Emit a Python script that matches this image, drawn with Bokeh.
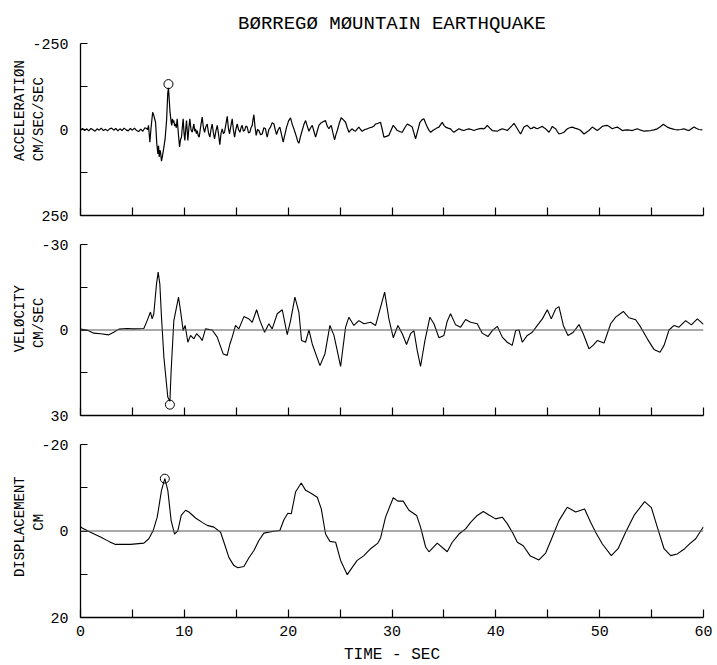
import math
from bokeh.plotting import figure
from bokeh.layouts import column, row
from bokeh.models import Range1d, FixedTicker, Span, Title
from bokeh.core.properties import value
from bokeh.embed import file_html
from bokeh.resources import INLINE

FONT = "Liberation Mono"

# ---------------- data ----------------
title_text = "BØRREGØ MØUNTAIN EARTHQUAKE"
x_ticks = [0, 5, 10, 15, 20, 25, 30, 35, 40, 45, 50, 55, 60]

accel_t = [0.0, 0.2, 0.4, 0.6, 0.8, 1.0, 1.2, 1.4, 1.6, 1.8, 2.0, 2.2, 2.4, 2.6, 2.8, 3.0,
           3.2, 3.4, 3.6, 3.8, 4.0, 4.2, 4.4, 4.6, 4.8, 5.0, 5.2, 5.4, 5.6, 5.8, 6.0, 6.2, 6.4,
           6.45, 6.55, 6.68, 6.80, 6.95, 7.06, 7.15, 7.23, 7.35, 7.45, 7.52, 7.58, 7.65, 7.71,
           7.80, 7.90, 8.03, 8.15, 8.29, 8.40, 8.47, 8.55, 8.61, 8.73, 8.79, 8.85, 8.92, 8.99,
           9.07, 9.15, 9.23, 9.31, 9.42, 9.54, 9.63, 9.73, 9.80, 9.89, 9.97, 10.05, 10.13,
           10.21, 10.28, 10.34, 10.44, 10.53, 10.64, 10.76, 10.84, 10.92, 11.00, 11.08, 11.16,
           11.24, 11.34, 11.43, 11.58, 11.72, 11.84, 11.95, 12.07, 12.20, 12.33, 12.46, 12.57,
           12.68, 12.80, 12.91, 13.04, 13.17, 13.30, 13.42, 13.54, 13.65, 13.76, 13.87, 14.00,
           14.13, 14.24, 14.35, 14.48, 14.61, 14.72, 14.84, 14.96, 15.09, 15.22, 15.35, 15.46,
           15.57, 15.68, 15.80, 15.93, 16.06, 16.18, 16.31, 16.42, 16.54, 16.62, 16.70, 16.80,
           16.92, 17.05, 17.18, 17.34, 17.50, 17.66, 17.82, 17.90, 17.98, 18.14, 18.30, 18.46,
           18.63, 18.75, 18.88, 19.04, 19.20, 19.36, 19.52, 19.68, 19.85, 20.04, 20.23, 20.39,
           20.55, 20.68, 20.81, 20.92, 21.03, 21.19, 21.35, 21.52, 21.68, 21.84, 22.00, 22.16,
           22.32, 22.48, 22.64, 22.80, 22.96, 23.12, 23.28, 23.44, 23.60, 23.76, 23.92, 24.04,
           24.15, 24.31, 24.47, 24.60, 24.73, 24.92, 25.11, 25.32, 25.53, 25.69, 25.85, 26.01,
           26.17, 26.33, 26.49, 26.65, 26.81, 26.97, 27.14, 27.38, 27.62, 27.86, 28.10, 28.26,
           28.42, 28.66, 28.90, 29.06, 29.22, 29.46, 29.70, 29.91, 30.12, 30.32, 30.51, 30.75,
           30.99, 31.23, 31.47, 31.71, 31.95, 32.11, 32.27, 32.48, 32.69, 32.88, 33.07, 33.24,
           33.40, 33.56, 33.72, 33.96, 34.20, 34.36, 34.52, 34.68, 34.84, 35.00, 35.16, 35.40,
           35.64, 35.80, 35.96, 36.20, 36.45, 36.69, 36.93, 37.17, 37.41, 37.65, 37.89, 38.13,
           38.37, 38.62, 38.86, 39.02, 39.18, 39.42, 39.66, 39.90, 40.14, 40.38, 40.62, 40.86,
           41.10, 41.26, 41.42, 41.58, 41.75, 41.91, 42.07, 42.23, 42.39, 42.55, 42.71, 42.87,
           43.03, 43.19, 43.35, 43.51, 43.67, 43.84, 44.00, 44.24, 44.48, 44.64, 44.80, 45.12,
           45.28, 45.44, 45.60, 45.76, 45.92, 46.08, 46.32, 46.56, 46.72, 46.88, 47.12, 47.37,
           47.61, 47.85, 48.01, 48.17, 48.33, 48.49, 48.73, 48.97, 49.13, 49.29, 49.53, 49.77,
           50.02, 50.26, 50.50, 50.74, 50.98, 51.22, 51.46, 51.70, 51.94, 52.18, 52.42, 52.66,
           52.90, 53.15, 53.39, 53.63, 53.95, 54.27, 54.59, 54.91, 55.23, 55.55, 55.84, 56.13,
           56.33, 56.52, 56.76, 57.00, 57.24, 57.48, 57.80, 58.12, 58.36, 58.60, 58.84, 59.09,
           59.33, 59.57, 59.89]
accel_v = [2, -3, 3, -2, 4, -3, 1, 5, -2, 2, -4, 3, -1, 4, -2, -4, 2, -3, 4, -2, 3, -4, 1, 4,
           -3, 2, -4, 3, 6, -1, 5, -5, -2,
           1, -12, 37, -7, -50, -41, -30, -21, 42, 71, 47, 80, 60, 66,
           92, 76, 51, 27, -26, -104, -121, -84, -55, -21, -12, -31, -20, -26,
           -10, -16, -5, -31, 10, 51, 30, 22, -5, -31, 10, 32, 0,
           -26, 5, 32, -5, -31, 0, 8, -5, -16, 5, -2, 12,
           3, 18, 22, -10, -36, -5, 8, -8, -16, 10, 22, 0,
           -16, 10, 27, 5, -12, 15, 44, 10, -2, 12, 8, -15,
           -38, -5, 13, -10, -31, 0, 22, 0, -16, 0, 8, -5,
           -12, 5, 3, -10, -7, 10, 8, -5, -12, -30, -43, -10,
           17, 0, 3, 15, 13, -5, -2, 12, 22, 0, -7, -20,
           -16, 0, 15, 0, -7, 15, 37, 15, -7, -25, -34, -15,
           -2, 10, 22, 35, 40, 20, 3, -15, -26, -10, 5, -5,
           -12, 5, 22, 5, -12, -18, -21, -24, -26, -10, -2, -8,
           -12, 10, 30, 15, 3, -18, -34, -28, -21, -5, 8, 2,
           -2, 3, 5, -2, -7, 0, 5, 0, -2, -5, -7, -10,
           -16, -18, -21, 0, 22, 20, 17, 2, -12, -5, 3, 6,
           8, -5, -16, -12, -7, 10, 27, 3, -21, -28, -31, -18,
           -7, 2, 8, 2, -2, -5, -7, -14, -21, -12, -7, -4,
           -2, 4, 8, 3, -2, 1, 3, 0, -2, 0, 3, 0,
           -2, -3, -2, -6, -12, -4, 3, 4, 5, 1, -2, 0,
           3, -2, -7, -12, -18, -10, -2, 6, 13, 3, -7, -10,
           -12, -7, -2, -4, -7, -4, -2, -6, -9, -5, -2, 8,
           0, -9, -5, -2, 6, 13, 11, 8, 3, -2, -5, -7,
           -4, -2, 0, 3, 8, 13, 8, 3, -2, -7, -2, 3,
           -3, -9, -11, -12, -7, -2, -5, -7, -2, 3, 2, 1,
           2, 3, 0, -2, 2, 5, 4, 3, 1, -2, -8, -15,
           -11, -7, -4, -2, 0, 1, 0, -2, 1, 3, -2, -7,
           -3, 0, 1]

vel_t = [0.0, 0.64, 1.28, 1.93, 2.73, 3.20, 3.70, 4.50, 5.10, 6.10, 6.42, 6.74, 6.90, 7.06,
         7.32, 7.48, 7.64, 7.80, 8.03, 8.41, 8.61, 8.73, 8.99, 9.44, 9.63, 9.89, 10.08, 10.34,
         10.60, 10.92, 11.18, 11.50, 11.72, 12.04, 12.68, 13.17, 13.74, 14.13, 14.39, 14.61,
         14.93, 15.25, 15.74, 16.22, 16.54, 16.96, 17.28, 17.73, 18.14, 18.46, 18.95, 19.43,
         19.91, 20.23, 20.65, 21.03, 21.29, 21.68, 22.00, 22.32, 23.06, 23.54, 24.02, 24.41,
         25.05, 25.53, 25.85, 26.33, 26.81, 27.30, 27.94, 28.42, 28.90, 29.29, 29.70, 30.12,
         30.57, 30.99, 31.40, 31.79, 32.11, 32.43, 32.75, 33.17, 33.65, 34.04, 34.52, 35.00,
         35.32, 35.64, 36.13, 36.61, 37.09, 37.57, 38.21, 38.69, 39.24, 39.66, 40.14, 40.62,
         41.10, 41.58, 41.91, 42.23, 42.55, 43.03, 43.51, 44.00, 44.48, 44.96, 45.34, 45.76,
         46.08, 46.50, 46.95, 47.46, 48.01, 48.42, 48.97, 49.36, 49.77, 50.42, 51.06, 51.54,
         52.28, 52.82, 53.47, 53.95, 54.59, 55.23, 55.81, 56.20, 56.68, 57.16, 57.64, 58.28,
         58.83, 59.41, 60.00]
vel_v = [-0.3, 0.0, 1.1, 1.3, 1.7, 0.8, -0.3, -0.5, -0.4, -0.5, -3.3, -6.3, -3.9, -5.7,
         -16.2, -20.3, -16.2, -4.5, 9.5, 23.6, 25.0, 14.2, -3.3, -11.5, -6.8, 0.2, -1.6, 4.3,
         1.9, 3.1, 1.3, 2.5, 3.7, -0.4, 0.0, 2.5, 8.4, 8.9, 4.9, 2.5,
         -1.6, -0.4, -4.7, -3.9, -2.7, -7.1, -3.3, 0.8, -2.2, -0.4, -5.7, -7.1,
         1.6, -3.3, -11.5, -6.3, 3.7, 4.3, 0.0, 4.9, 12.5, 8.4, -1.6, 1.9,
         12.8, -1.0, -4.5, -1.6, -3.3, -2.2, -2.7, -1.6, -8.0, -13.3, -3.9, 2.7,
         -1.6, 1.3, 5.1, 1.3, 0.2, 7.2, 12.8, 3.7, -4.5, -2.2, 2.7, 1.9,
         -3.1, -5.7, -1.8, -1.0, -3.7, -2.7, -2.2, 1.1, 2.3, 0.2, -1.3, 2.5,
         4.3, 5.4, 0.2, 0.0, 4.3, 1.9, 0.8, -1.6, -3.9, -7.1, -3.9, -7.4,
         -8.2, -1.6, 1.9, 0.8, -1.9, 1.3, 6.6, 5.4, 3.7, 4.6, -2.2, -4.5,
         -6.5, -4.3, -3.6, -1.0, 3.1, 6.8, 7.8, 5.4, 0.0, -1.6, -1.0, -3.3,
         -1.8, -3.9, -2.0]

disp_t = [0.00, 0.16, 0.96, 1.93, 2.73, 3.37, 4.82, 6.10, 6.58, 7.00, 7.39, 7.80, 8.12, 8.41,
          8.73, 9.06, 9.38, 9.70, 10.12, 10.44, 11.08, 11.72, 12.20, 12.85, 13.49, 13.87,
          14.29, 14.77, 15.16, 15.74, 16.22, 16.70, 17.18, 17.66, 18.47, 19.20, 19.59, 19.97,
          20.30, 20.71, 21.26, 21.68, 22.16, 22.80, 23.19, 23.60, 24.02, 24.57, 25.05, 25.69,
          26.17, 26.65, 27.30, 27.94, 28.64, 28.90, 29.38, 30.12, 30.57, 31.08, 31.63, 32.37,
          32.75, 33.24, 33.56, 34.36, 35.32, 35.80, 36.45, 37.09, 37.57, 38.21, 38.79, 39.34,
          39.98, 40.62, 41.10, 41.68, 42.07, 42.64, 43.29, 44.15, 44.80, 45.44, 46.08, 46.88,
          47.69, 48.55, 49.13, 49.61, 50.26, 51.12, 51.77, 52.50, 53.31, 54.33, 54.98, 55.55,
          56.20, 56.84, 57.48, 58.19, 58.60, 59.25, 59.73, 60.00]
disp_v = [-1.0, -0.7, 0.3, 1.4, 2.4, 3.1, 3.1, 2.8, 1.8, -0.1, -3.2, -9.4, -12.1, -9.4,
          -2.4, 0.7, -0.1, -3.6, -4.8, -4.4, -3.0, -2.0, -1.3, -0.9, 0.3, 3.0,
          6.1, 8.0, 8.5, 8.2, 6.2, 4.5, 2.2, 0.5, 0.1, -0.1, -2.6, -4.1,
          -4.0, -9.0, -11.1, -9.4, -8.8, -7.8, -5.1, 0.7, 2.4, 2.6, 6.8, 10.1,
          8.4, 6.8, 5.7, 4.1, 2.8, 1.6, -3.2, -7.7, -6.9, -6.9, -4.8, -3.6,
          -0.9, 3.7, 4.8, 2.8, 4.8, 2.6, 0.7, -0.5, -2.0, -3.6, -4.5, -3.7,
          -2.8, -3.2, -1.7, 0.7, 2.6, 3.4, 5.7, 6.7, 5.1, 1.4, -2.4, -5.5,
          -4.4, -5.1, -2.0, 0.3, 3.0, 5.7, 4.1, 0.3, -3.6, -6.8, -5.4, -0.9,
          4.1, 5.7, 5.3, 4.1, 3.1, 1.8, 0.0, -1.0]

# circled peak values
accel_peak_t, accel_peak_v = [8.47], [-132]
vel_peak_t, vel_peak_v = [8.61], [26.2]
disp_peak_t, disp_peak_v = [8.12], [-12.1]

# y tick values and their printed labels
accel_ticks, accel_tick_labels = [-250, -125, 0, 125, 250], ["-250", "0", "250"]
vel_ticks, vel_tick_labels = [-30, -15, 0, 15, 30], ["-30", "0", "30"]
disp_ticks, disp_tick_labels = [-20, -10, 0, 10, 20], ["-20", "0", "20"]

panels = [
    dict(name="ACCELERATIØN", unit="CM/SEC/SEC", ticks=accel_ticks, labels=accel_tick_labels,
         t=accel_t, v=accel_v, pt=accel_peak_t, pv=accel_peak_v, zero=False,
         name_y=-55, unit_y=-30, lw=1.2),
    dict(name="VELØCITY", unit="CM/SEC", ticks=vel_ticks, labels=vel_tick_labels,
         t=vel_t, v=vel_v, pt=vel_peak_t, pv=vel_peak_v, zero=True,
         name_y=-4, unit_y=-2.5, lw=1.1),
    dict(name="DISPLACEMENT", unit="CM", ticks=disp_ticks, labels=disp_tick_labels,
         t=disp_t, v=disp_v, pt=disp_peak_t, pv=disp_peak_v, zero=True,
         name_y=-1, unit_y=-2, lw=1.1),
]

# ---------------- layout constants (pixels) ----------------
LEFT_W = 74          # width of the text strip left of each panel
MAIN_LEFT = 6        # main figure border left of its frame
FRAME_W = 623
tops = [43, 15, 15]
bottoms = [14, 14, 43]
fheights = [172, 171, 173]

rows = []
for i, pd in enumerate(panels):
    lo, hi = pd["ticks"][0], pd["ticks"][-1]
    T, H, B = tops[i], fheights[i], bottoms[i]

    # ---- main panel ----
    p = figure(frame_width=FRAME_W, frame_height=H, output_backend="svg",
               toolbar_location=None, x_range=Range1d(0, 60),
               y_range=Range1d(hi, lo),
               min_border_left=MAIN_LEFT, min_border_right=10,
               min_border_top=T, min_border_bottom=B)
    p.grid.visible = False
    p.outline_line_color = None
    p.background_fill_color = "white"

    xa = p.xaxis[0]
    xa.ticker = FixedTicker(ticks=x_ticks)
    xa.major_tick_in = 8
    xa.major_tick_out = 0
    xa.minor_tick_line_color = None
    xa.axis_line_width = 1.3
    xa.major_tick_line_width = 1.2
    xa.axis_line_color = "black"
    xa.major_tick_line_color = "black"
    if i == 2:
        xa.major_label_overrides = {t: "" for t in x_ticks if t % 10 != 0}
        xa.major_label_text_font = FONT
        xa.major_label_text_font_size = "15px"
        xa.major_label_text_color = "black"
        xa.major_label_standoff = 8
        xa.axis_label = "TIME - SEC"
        xa.axis_label_text_font = FONT
        xa.axis_label_text_font_size = "16px"
        xa.axis_label_text_font_style = "normal"
        xa.axis_label_text_color = "black"
        xa.axis_label_standoff = 7
    else:
        xa.major_label_overrides = {t: "" for t in x_ticks}
        xa.major_label_text_font_size = "1px"
        xa.major_label_standoff = 0

    ya = p.yaxis[0]
    ya.ticker = FixedTicker(ticks=pd["ticks"])
    ya.major_label_overrides = {t: "" for t in pd["ticks"]}
    ya.major_label_text_font_size = "1px"
    ya.major_label_standoff = 0
    ya.major_tick_in = 7
    ya.major_tick_out = 0
    ya.minor_tick_line_color = None
    ya.axis_line_width = 1.3
    ya.major_tick_line_width = 1.2
    ya.axis_line_color = "black"
    ya.major_tick_line_color = "black"

    if pd["zero"]:
        p.add_layout(Span(location=0, dimension="width", line_color="#555555",
                          line_width=1))

    p.line(pd["t"], pd["v"], line_color="black", line_width=pd["lw"])
    p.scatter(pd["pt"], pd["pv"], marker="circle", size=9, fill_color=None,
              line_color="black", line_width=1)

    if i == 0:
        p.title = Title(text=title_text, align="center", text_font=FONT,
                        text_font_size="19px", text_font_style="normal",
                        text_color="black", standoff=18)

    # ---- text strip on the left; its frame is aligned with the panel's frame ----
    q = figure(frame_width=LEFT_W, frame_height=H, output_backend="svg",
               toolbar_location=None, x_axis_location=None, y_axis_location=None,
               x_range=Range1d(0, LEFT_W), y_range=Range1d(hi, lo),
               min_border_left=0, min_border_right=0,
               min_border_top=T, min_border_bottom=B)
    q.grid.visible = False
    q.outline_line_color = None
    r1 = q.text(x=[68] * 3, y=[lo, 0, hi], text=pd["labels"], text_align="right",
                text_baseline="middle", text_font=value(FONT),
                text_font_size=value("15px"), text_color="black")
    r2 = q.text(x=[19], y=[pd["name_y"]], text=[pd["name"]], angle=math.pi / 2,
                text_align="center", text_baseline="middle", text_font=value(FONT),
                text_font_size=value("14px"), text_color="black")
    r3 = q.text(x=[38], y=[pd["unit_y"]], text=[pd["unit"]], angle=math.pi / 2,
                text_align="center", text_baseline="middle", text_font=value(FONT),
                text_font_size=value("14px"), text_color="black")
    for r in (r1, r2, r3):
        r.level = "overlay"

    rows.append(row(q, p, spacing=0))

layout = column(*rows, spacing=0)
open("out.html", "w").write(file_html(layout, INLINE))
